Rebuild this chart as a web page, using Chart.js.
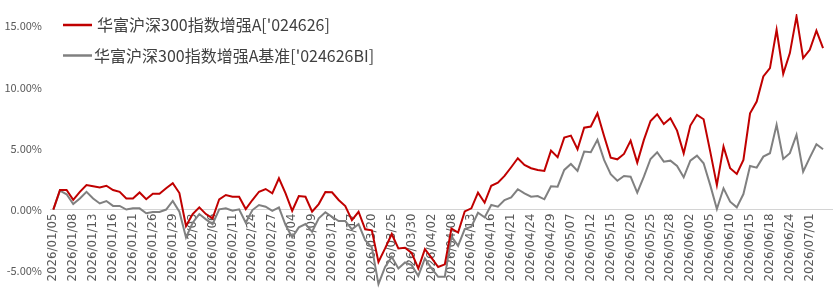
<!DOCTYPE html>
<html>
<head>
<meta charset="utf-8">
<script src="https://cdn.jsdelivr.net/npm/chart.js@4/dist/chart.umd.min.js"></script>
<style>
  html, body { margin: 0; padding: 0; background: #ffffff; }
  #wrap { width: 833px; height: 294px; }
</style>
</head>
<body>
<div id="wrap"><canvas id="c" width="833" height="294"></canvas></div>
<script>
// ---- data ----
const dates = [
  "2026/01/05","2026/01/06","2026/01/07","2026/01/08","2026/01/09","2026/01/12","2026/01/13","2026/01/14","2026/01/15","2026/01/16",
  "2026/01/19","2026/01/20","2026/01/21","2026/01/22","2026/01/23","2026/01/26","2026/01/27","2026/01/28","2026/01/29","2026/01/30",
  "2026/02/02","2026/02/03","2026/02/04","2026/02/05","2026/02/06","2026/02/09","2026/02/10","2026/02/11","2026/02/12","2026/02/13",
  "2026/02/24","2026/02/25","2026/02/26","2026/02/27","2026/03/02","2026/03/03","2026/03/04","2026/03/05","2026/03/06","2026/03/09",
  "2026/03/10","2026/03/11","2026/03/12","2026/03/13","2026/03/16","2026/03/17","2026/03/18","2026/03/19","2026/03/20","2026/03/23",
  "2026/03/24","2026/03/25","2026/03/26","2026/03/27","2026/03/30","2026/03/31","2026/04/01","2026/04/02","2026/04/03","2026/04/07",
  "2026/04/08","2026/04/09","2026/04/10","2026/04/13","2026/04/14","2026/04/15","2026/04/16","2026/04/17","2026/04/20","2026/04/21",
  "2026/04/22","2026/04/23","2026/04/24","2026/04/27","2026/04/28","2026/04/29","2026/04/30","2026/05/06","2026/05/07","2026/05/08",
  "2026/05/11","2026/05/12","2026/05/13","2026/05/14","2026/05/15","2026/05/18","2026/05/19","2026/05/20","2026/05/21","2026/05/22",
  "2026/05/25","2026/05/26","2026/05/27","2026/05/28","2026/05/29","2026/06/01","2026/06/02","2026/06/03","2026/06/04","2026/06/05",
  "2026/06/08","2026/06/09","2026/06/10","2026/06/11","2026/06/12","2026/06/15","2026/06/16","2026/06/17","2026/06/18","2026/06/22",
  "2026/06/23","2026/06/24","2026/06/26","2026/06/30","2026/07/01","2026/07/02","2026/07/03","2026/07/06"
];

// 华富沪深300指数增强A (%)
const fundReturns = [
  0,
  1.6, 1.6, 0.8, 1.45, 2.0, 1.9, 1.8, 1.95, 1.6, 1.45,
  0.9, 0.9, 1.4, 0.85, 1.3, 1.3, 1.75, 2.15, 1.35,
  -1.35, -0.37, 0.18, -0.37, -0.72, 0.84, 1.19, 1.05, 1.05, 0.04,
  0.78, 1.46, 1.68, 1.33, 2.56, 1.33, -0.1, 1.1, 1.05, -0.18,
  0.45, 1.43, 1.41, 0.78, 0.29, -0.86, -0.18, -1.62, -1.7, -4.28,
  -3.18, -2.0, -3.18, -3.13, -3.55, -4.82, -3.24, -3.95, -4.7, -4.48,
  -1.55, -1.88, -0.15, 0.1, 1.38, 0.56, 1.95, 2.2, 2.75, 3.46,
  4.2, 3.65, 3.38, 3.24, 3.16, 4.82, 4.28, 5.89, 6.05, 4.93,
  6.7, 6.79, 7.88, 6.02, 4.25, 4.11, 4.55, 5.64, 3.84, 5.7,
  7.25, 7.8, 7.0, 7.47, 6.46, 4.6, 6.87, 7.75, 7.39, 4.74,
  2.0, 5.15, 3.38, 2.91, 4.06, 7.88, 8.84, 10.89, 11.57, 14.71,
  11.11, 12.8, 15.8, 12.39, 13.07, 14.63, 13.21,
  null
];

// 华富沪深300指数增强A基准 (%)
const benchReturns = [
  0,
  1.55, 1.25, 0.45, 0.9, 1.45, 0.9, 0.5, 0.7, 0.3, 0.3,
  0.0, 0.1, 0.1, -0.3, -0.2, -0.2, 0.0, 0.7, -0.18,
  -2.28, -1.08, -0.37, -0.8, -1.19, 0.02, 0.1, -0.1, 0.02, -1.08,
  -0.04, 0.37, 0.23, -0.1, 0.18, -1.27, -2.28, -1.46, -1.19, -1.82,
  -0.72, -0.23, -0.59, -0.94, -0.94, -1.62, -1.19, -2.5, -3.1, -6.1,
  -4.69, -3.87, -4.82, -4.33, -4.55, -5.43, -4.0, -4.82, -5.5, -5.5,
  -2.2, -2.97, -1.6, -1.41, -0.26, -0.64, 0.37, 0.23, 0.78, 1.0,
  1.66, 1.33, 1.05, 1.1, 0.84, 1.9, 1.87, 3.24, 3.73, 3.16,
  4.74, 4.69, 5.7, 4.06, 2.89, 2.36, 2.75, 2.69, 1.38, 2.69,
  4.14, 4.69, 3.92, 4.0, 3.57, 2.64, 4.0, 4.41, 3.79, 2.0,
  0.04, 1.74, 0.64, 0.18, 1.27, 3.57, 3.43, 4.33, 4.61, 6.93,
  4.14, 4.61, 6.11, 3.1, 4.25, 5.34, 4.93,
  null
];

const seriesNames = ["华富沪深300指数增强A['024626]", "华富沪深300指数增强A基准['024626BI]"];
const yTickValues = [-5, 0, 5, 10, 15];
const labelEvery = 3;
const lastLabelIndex = 114;

// ---- legend drawn on top of the plot ----
const legendPlugin = {
  id: 'insideLegend',
  afterDraw(chart) {
    const ctx = chart.ctx;
    ctx.save();
    const rows = [{ y: 25, tx: 97 }, { y: 55.5, tx: 94 }];
    chart.data.datasets.forEach((ds, i) => {
      const r = rows[i];
      ctx.strokeStyle = ds.borderColor;
      ctx.lineWidth = 2.5;
      ctx.beginPath();
      ctx.moveTo(63, r.y);
      ctx.lineTo(92, r.y);
      ctx.stroke();
      ctx.fillStyle = '#404040';
      ctx.font = '16px "Noto Sans CJK SC", "Noto Sans", sans-serif';
      ctx.textBaseline = 'middle';
      ctx.textAlign = 'left';
      ctx.fillText(ds.label, r.tx, r.y);
    });
    ctx.restore();
  }
};

new Chart(document.getElementById('c'), {
  type: 'line',
  data: {
    labels: dates,
    datasets: [
      { label: seriesNames[0], data: fundReturns, borderColor: '#C00000', backgroundColor: '#C00000', borderWidth: 2, pointRadius: 0, tension: 0, spanGaps: false },
      { label: seriesNames[1], data: benchReturns, borderColor: '#808080', backgroundColor: '#808080', borderWidth: 2, pointRadius: 0, tension: 0, spanGaps: false }
    ]
  },
  options: {
    responsive: false,
    animation: false,
    devicePixelRatio: 1,
    layout: { padding: { top: 14, bottom: 5, left: 0, right: 0 } },
    plugins: { legend: { display: false }, tooltip: { enabled: false } },
    scales: {
      x: {
        type: 'category',
        offset: true,
        position: { y: 0 },
        grid: { display: false, drawTicks: false },
        border: { display: true, color: '#d4d4d4', width: 1 },
        ticks: {
          autoSkip: false,
          minRotation: 90,
          maxRotation: 90,
          padding: 4,
          color: '#595959',
          font: { family: '"DejaVu Sans", sans-serif', size: 11.8 },
          callback: function (val, idx) {
            return (idx % labelEvery === 0 && idx <= lastLabelIndex) ? dates[idx] : '';
          }
        },
        afterFit: function (scale) { scale.height = 0; scale.paddingLeft = 0; scale.paddingRight = 0; }
      },
      y: {
        min: -6.5,
        max: 16,
        grid: { display: false, drawTicks: false },
        border: { display: false },
        afterBuildTicks: function (scale) { scale.ticks = yTickValues.map(v => ({ value: v })); },
        ticks: {
          padding: 8,
          color: '#595959',
          font: { family: '"Noto Sans CJK SC", "Noto Sans", sans-serif', size: 11 },
          callback: function (v) { return v.toFixed(2) + '%'; }
        },
        afterFit: function (scale) { scale.width = 50; scale.paddingTop = 0; scale.paddingBottom = 0; }
      }
    }
  },
  plugins: [legendPlugin]
});
</script>
</body>
</html>
